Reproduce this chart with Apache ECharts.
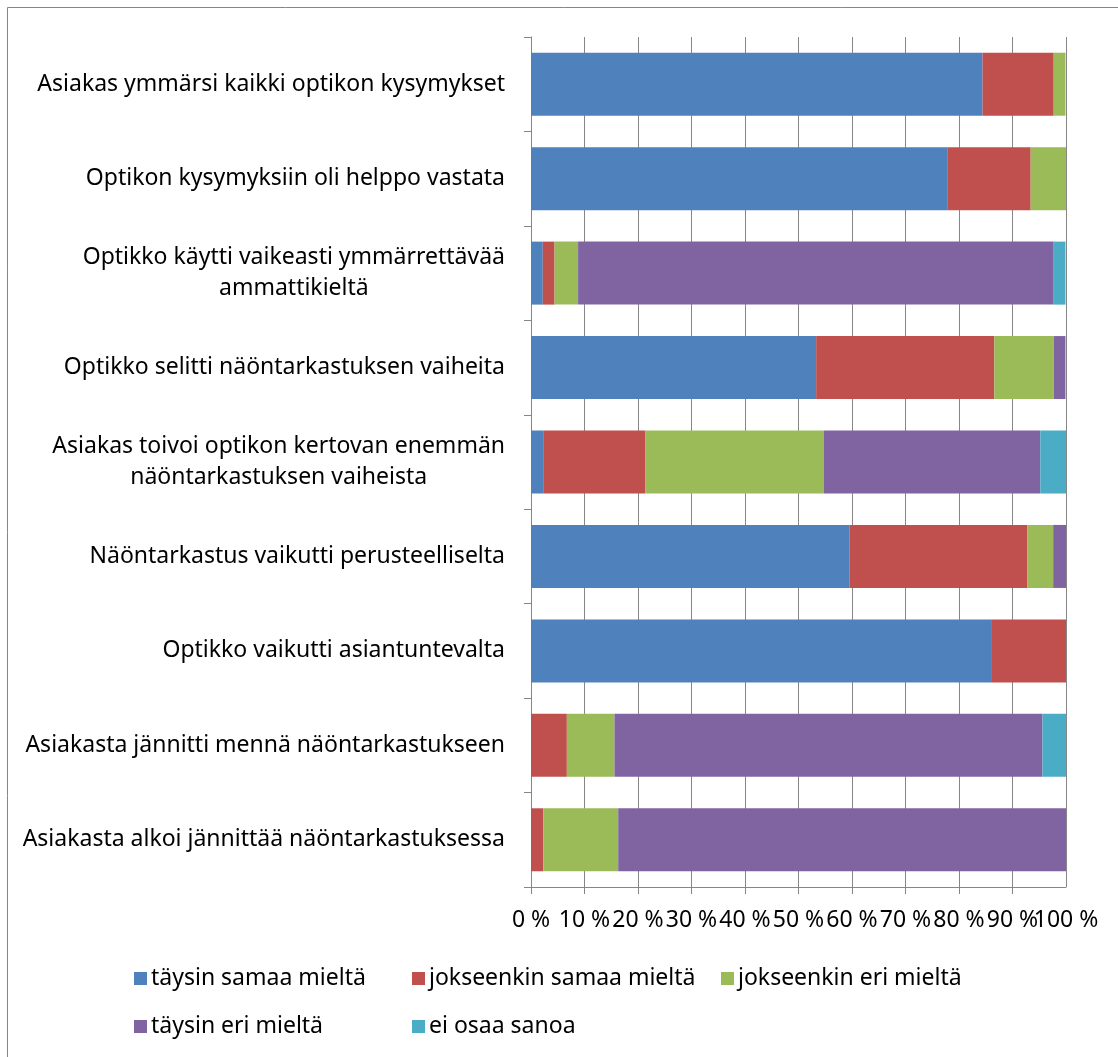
<!DOCTYPE html>
<html>
<head>
<meta charset="utf-8">
<script src="https://cdn.jsdelivr.net/npm/echarts@6/dist/echarts.min.js"></script>
<style>
  html, body { margin: 0; padding: 0; background: #fff; }
  #chart { width: 1118px; height: 1057px; }
</style>
</head>
<body>
<div id="chart"></div>
<script>
// Survey statements, top to bottom
const categories = [
  'Asiakas ymmärsi kaikki optikon kysymykset',
  'Optikon kysymyksiin oli helppo vastata',
  'Optikko käytti vaikeasti ymmärrettävää\nammattikieltä',
  'Optikko selitti näöntarkastuksen vaiheita',
  'Asiakas toivoi optikon kertovan enemmän\nnäöntarkastuksen vaiheista',
  'Näöntarkastus vaikutti perusteelliselta',
  'Optikko vaikutti asiantuntevalta',
  'Asiakasta jännitti mennä näöntarkastukseen',
  'Asiakasta alkoi jännittää näöntarkastuksessa'
];

// Answer shares (%) per statement
const taysinSamaa     = [84.4, 77.8, 2.2, 53.3, 2.4, 59.5, 86.0, 0.0, 0.0];
const jokseenkinSamaa = [13.3, 15.6, 2.2, 33.3, 19.0, 33.3, 14.0, 6.7, 2.3];
const jokseenkinEri   = [2.2, 6.7, 4.4, 11.1, 33.3, 4.8, 0.0, 8.9, 14.0];
const taysinEri       = [0.0, 0.0, 88.9, 2.2, 40.5, 2.4, 0.0, 80.0, 83.7];
const eiOsaa          = [0.0, 0.0, 2.2, 0.0, 4.8, 0.0, 0.0, 4.4, 0.0];

const seriesNames = ['täysin samaa mieltä', 'jokseenkin samaa mieltä', 'jokseenkin eri mieltä', 'täysin eri mieltä', 'ei osaa sanoa'];
const seriesData = [taysinSamaa, jokseenkinSamaa, jokseenkinEri, taysinEri, eiOsaa];
const colors = ['#4F81BD', '#C0504D', '#9BBB59', '#8064A2', '#4BACC6'];
const xTicks = [0, 100, 10]; // min, max, step

const FONT = 'Noto Sans';
const FS = 23;
const GRAY = '#868686';

const chart = echarts.init(document.getElementById('chart'), null, { renderer: 'canvas' });

// legend slots: [left, top]
const legendPos = [[134, 967], [412, 967], [721, 967], [134, 1015], [412, 1015]];

const pctLabel = {
  fontFamily: FONT,
  fontSize: FS,
  color: '#000',
  margin: 22,
  hideOverlap: false
};

const option = {
  backgroundColor: '#fff',
  animation: false,
  color: colors,
  graphic: [{
    type: 'rect',
    shape: { x: 7.5, y: 7.5, width: 1300, height: 1300 },
    style: { fill: 'none', stroke: GRAY, lineWidth: 1 },
    silent: true
  }],
  grid: { left: 531, right: 52, top: 37, bottom: 170, containLabel: false },
  legend: seriesNames.map((n, i) => ({
    data: [n],
    left: legendPos[i][0],
    top: legendPos[i][1],
    itemWidth: 13,
    itemHeight: 13,
    itemGap: 0,
    icon: 'rect',
    padding: 0,
    selectedMode: false,
    textStyle: { fontFamily: FONT, fontSize: FS, color: '#000', padding: [0, 0, 0, -1] }
  })),
  xAxis: [{
    // main percentage axis: line, ticks, grid and labels 0 % … 90 %
    type: 'value',
    position: 'bottom',
    min: xTicks[0],
    max: xTicks[1],
    interval: xTicks[2],
    axisLine: { show: true, lineStyle: { color: GRAY, width: 1 } },
    axisTick: { show: true, length: 7, lineStyle: { color: GRAY } },
    splitLine: { show: true, lineStyle: { color: GRAY, width: 1 } },
    axisLabel: Object.assign({ formatter: '{value} %', showMinLabel: true, showMaxLabel: false }, pctLabel)
  }, {
    // companion axis carrying only the end label "100 %", which sits tight against "90 %"
    type: 'value',
    position: 'bottom',
    min: xTicks[0],
    max: xTicks[1],
    interval: xTicks[2],
    axisLine: { show: false },
    axisTick: { show: false },
    splitLine: { show: false },
    axisLabel: Object.assign({
      formatter: v => (v === xTicks[1] ? v + ' %' : ''),
      showMinLabel: false,
      showMaxLabel: true
    }, pctLabel)
  }],
  yAxis: {
    type: 'category',
    data: categories,
    inverse: true,
    axisLine: { show: true, lineStyle: { color: GRAY, width: 1 } },
    axisTick: { show: true, length: 7, lineStyle: { color: GRAY } },
    splitLine: { show: false },
    axisLabel: {
      margin: 26,
      align: 'right',
      fontFamily: FONT,
      fontSize: FS,
      color: '#000',
      interval: 0,
      formatter: v => v.split('\n').map(s => '{c|' + s + '}').join('\n'),
      rich: {
        c: { align: 'center', fontFamily: FONT, fontSize: FS, color: '#000', lineHeight: 31 }
      }
    }
  },
  series: seriesNames.map((n, i) => ({
    name: n,
    type: 'bar',
    stack: 'total',
    xAxisIndex: 0,
    barCategoryGap: '33.3%',
    data: seriesData[i],
    itemStyle: { color: colors[i] },
    emphasis: { disabled: true }
  }))
};

chart.setOption(option);
</script>
</body>
</html>
